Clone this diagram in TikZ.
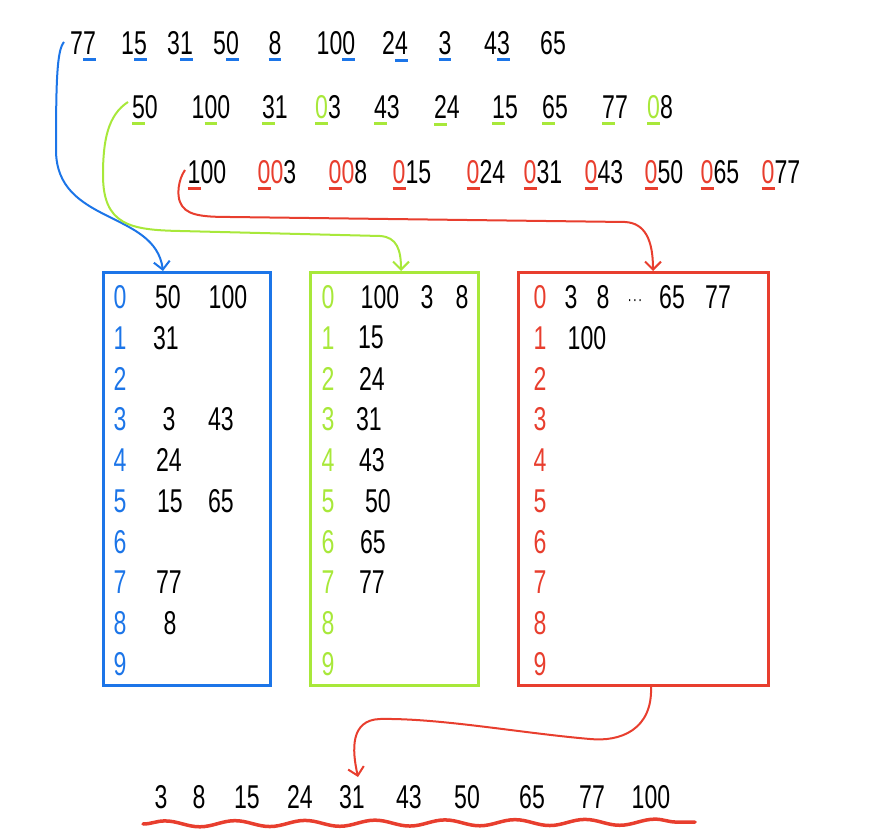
\documentclass[tikz,border=0pt]{standalone}
\usepackage{fontspec}
\setmainfont[FakeStretch=0.7]{Liberation Sans}
\usetikzlibrary{arrows.meta,decorations.pathmorphing}
\definecolor{cb}{RGB}{28,117,232}
\definecolor{cg}{RGB}{168,232,58}
\definecolor{cr}{RGB}{232,62,46}
\newcommand\uln[2]{\setbox0=\hbox{#2}\rlap{\smash{\textcolor{#1}{\rule[-7pt]{\wd0}{3pt}}}}\box0\relax}
\newcommand\myR[1]{\textcolor{cr}{#1}}
\newcommand\myG[1]{\textcolor{cg}{#1}}
\begin{document}
\begin{tikzpicture}[x=1pt,y=-1pt,
  num/.style={inner sep=0pt,font=\fontsize{33}{33}\selectfont},
  box/.style={draw=#1,line width=3pt,inner sep=0pt,minimum height=413pt},
  arr/.style={line width=2pt,-{Straight Barb[length=8pt,width=16pt]}}]
\useasboundingbox (0,0) rectangle (871,840);
% row 1
\node[num] (a1) at (83,43) {7\uln{cb}{7}};
\node[num] (a2) at (134,43) {1\uln{cb}{5}};
\node[num] (a3) at (180,43) {3\uln{cb}{1}};
\node[num] (a4) at (226,43) {5\uln{cb}{0}};
\node[num] (a5) at (275,43) {\uln{cb}{8}};
\node[num] (a6) at (336,43) {10\uln{cb}{0}};
\node[num] (a7) at (395,43) {2\uln{cb}{4}};
\node[num] (a8) at (445,43) {\uln{cb}{3}};
\node[num] (a9) at (497,43) {4\uln{cb}{3}};
\node[num] (a10) at (553,43) {65};
% row 2
\node[num] (b1) at (145,107) {\uln{cg}{5}0};
\node[num] (b2) at (211,107) {1\uln{cg}{0}0};
\node[num] (b3) at (275,107) {\uln{cg}{3}1};
\node[num] (b4) at (328,107) {\uln{cg}{\myG{0}}3};
\node[num] (b5) at (387,107) {\uln{cg}{4}3};
\node[num] (b6) at (447,107) {\uln{cg}{2}4};
\node[num] (b7) at (505,107) {\uln{cg}{1}5};
\node[num] (b8) at (555,107) {\uln{cg}{6}5};
\node[num] (b9) at (615,107) {\uln{cg}{7}7};
\node[num] (b10) at (660,107) {\uln{cg}{\myG{0}}8};
% row 3
\node[num] (c1) at (207,172) {\uln{cr}{1}00};
\node[num] (c2) at (277,172) {\uln{cr}{\myR{0}}\myR{0}3};
\node[num] (c3) at (348,172) {\uln{cr}{\myR{0}}\myR{0}8};
\node[num] (c4) at (412,172) {\uln{cr}{\myR{0}}15};
\node[num] (c5) at (486,172) {\uln{cr}{\myR{0}}24};
\node[num] (c6) at (543,172) {\uln{cr}{\myR{0}}31};
\node[num] (c7) at (604,172) {\uln{cr}{\myR{0}}43};
\node[num] (c8) at (664,172) {\uln{cr}{\myR{0}}50};
\node[num] (c9) at (720,172) {\uln{cr}{\myR{0}}65};
\node[num] (c10) at (781,172) {\uln{cr}{\myR{0}}77};
% boxes
\node[box=cb,minimum width=167pt] (bbox) at (186.5,478.5) {};
\node[box=cg,minimum width=168pt] (gbox) at (394,478.5) {};
\node[box=cr,minimum width=250pt] (rbox) at (643,478.5) {};
\foreach \i in {0,...,9}{
  \node[num,text=cb] (bl\i) at (120,{297+40.8*\i}) {\i};
  \node[num,text=cg] (gl\i) at (328,{297+40.8*\i}) {\i};
  \node[num,text=cr] (rl\i) at (540,{297+40.8*\i}) {\i};
}
% blue box contents
\node[num] (bb0a) at (168,297) {50};
\node[num] (bb0b) at (228,297) {100};
\node[num] (bb1a) at (166,337.8) {31};
\node[num] (bb3a) at (169,419.4) {3};
\node[num] (bb3b) at (221,419.4) {43};
\node[num] (bb4a) at (169,460.2) {24};
\node[num] (bb5a) at (170,501) {15};
\node[num] (bb5b) at (221,501) {65};
\node[num] (bb7a) at (169,582.6) {77};
\node[num] (bb8a) at (170,623.4) {8};
% green box contents
\node[num] (gb0a) at (380,297) {100};
\node[num] (gb0b) at (427,297) {3};
\node[num] (gb0c) at (462,297) {8};
\node[num] (gb1a) at (371,337.8) {15};
\node[num] (gb2a) at (372,378.6) {24};
\node[num] (gb3a) at (369,419.4) {31};
\node[num] (gb4a) at (372,460.2) {43};
\node[num] (gb5a) at (378,501) {50};
\node[num] (gb6a) at (373,541.8) {65};
\node[num] (gb7a) at (372,582.6) {77};
% red box contents
\node[num] (rb0a) at (571,297) {3};
\node[num] (rb0b) at (603,297) {8};
\node[inner sep=0pt,anchor=base,font=\fontsize{18}{18}\selectfont] (rb0c) at (635,305) {·\kern1pt·\kern1pt·};
\node[num] (rb0d) at (672,297) {65};
\node[num] (rb0e) at (718,297) {77};
\node[num] (rb1a) at (587,337.8) {100};
% bottom row
\node[num] (o1) at (161,797) {3};
\node[num] (o2) at (199,797) {8};
\node[num] (o3) at (247,797) {15};
\node[num] (o4) at (300,797) {24};
\node[num] (o5) at (352,797) {31};
\node[num] (o6) at (409,797) {43};
\node[num] (o7) at (467,797) {50};
\node[num] (o8) at (532,797) {65};
\node[num] (o9) at (592,797) {77};
\node[num] (o10) at (651,797) {100};
% connectors
\coordinate (bs) at (64,42);
\coordinate (be) at (163,271);
\coordinate (gs) at (128,102);
\coordinate (ge) at (401,271);
\coordinate (rs) at (185,170);
\coordinate (re) at (653,271);
\coordinate (fs) at (651,686);
\coordinate (fe) at (358,777);
\draw[arr,cb] (bs) .. controls (57,50) and (56,80) .. (56,150) .. controls (56,225) and (155,210) .. (be);
\draw[arr,cg] (gs) .. controls (108,115) and (103,140) .. (103,175) .. controls (103,225) and (130,230) .. (180,231) -- (380,236) .. controls (397,237) and (401,250) .. (ge);
\draw[arr,cr] (rs) .. controls (178,180) and (177,195) .. (180,202) .. controls (185,215) and (200,217) .. (230,217) -- (625,222) .. controls (645,223) and (653,240) .. (re);
\draw[arr,cr] (fs) .. controls (653,730) and (620,742) .. (590,739) .. controls (520,733) and (440,718) .. (380,719) .. controls (350,720) and (352,750) .. (fe);
% wavy underline
\coordinate (wl) at (143,824);
\coordinate (wr) at (695,822);
\draw[cr,line width=3.5pt,line cap=round,decorate,decoration={snake,segment length=70pt,amplitude=3pt}] (wl) -- (wr);
\end{tikzpicture}
\end{document}
